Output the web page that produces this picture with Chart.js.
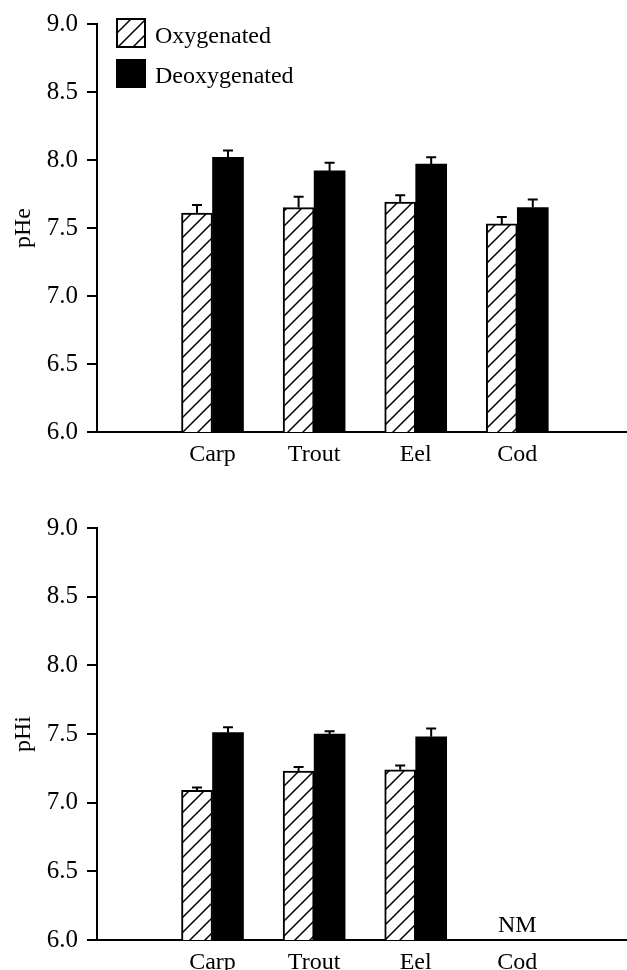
<!DOCTYPE html>
<html><head><meta charset="utf-8">
<script src="https://cdn.jsdelivr.net/npm/chart.js@4.4.0/dist/chart.umd.min.js"></script>
<style>
html,body{margin:0;padding:0;background:#fff;}
.box{position:absolute;left:0;width:627px;height:485px;}
#b1{top:0}
#b2{top:485px}
</style></head><body>
<div class="box" id="b1"><canvas id="c1"></canvas></div>
<div class="box" id="b2"><canvas id="c2"></canvas></div>
<script>
// ---- data ----
const categories = ['Carp', 'Trout', 'Eel', 'Cod'];
const seriesNames = ['Oxygenated', 'Deoxygenated'];
const pHeOxy      = [7.61, 7.65, 7.69, 7.53];
const pHeOxyErr   = [0.06, 0.08, 0.05, 0.05];
const pHeDeoxy    = [8.02, 7.92, 7.97, 7.65];
const pHeDeoxyErr = [0.05, 0.06, 0.05, 0.06];
const pHiOxy      = [7.09, 7.23, 7.24, null];
const pHiOxyErr   = [0.02, 0.03, 0.03, null];
const pHiDeoxy    = [7.51, 7.50, 7.48, null];
const pHiDeoxyErr = [0.04, 0.02, 0.06, null];
const pHiNotes    = ['', '', '', 'NM'];
const yTicks      = [6.0, 6.5, 7.0, 7.5, 8.0, 8.5, 9.0];

Chart.defaults.font.family = '"Liberation Serif", "Times New Roman", serif';
Chart.defaults.font.size = 24;
Chart.defaults.color = '#000';

function makeHatch() {
  const s = 15;
  const c = document.createElement('canvas');
  c.width = s; c.height = s;
  const g = c.getContext('2d');
  g.fillStyle = '#fff'; g.fillRect(0, 0, s, s);
  g.strokeStyle = '#000'; g.lineWidth = 1.5;
  g.beginPath();
  g.moveTo(-2, s + 2); g.lineTo(s + 2, -2);
  g.moveTo(-s / 2 - 2, s / 2 + 2); g.lineTo(s / 2 + 2, -s / 2 - 2);
  g.moveTo(s / 2 - 2, s * 1.5 + 2); g.lineTo(s * 1.5 + 2, s / 2 - 2);
  g.stroke();
  return g.createPattern(c, 'repeat');
}
const hatch = makeHatch();

const toPoints = arr => arr.map((v, i) => ({ x: i + 1, y: v }));

const errorBars = {
  id: 'errorBars',
  afterDatasetsDraw(chart) {
    const ctx = chart.ctx, ys = chart.scales.y;
    ctx.save();
    ctx.strokeStyle = '#000'; ctx.lineWidth = 2;
    chart.data.datasets.forEach((ds, i) => {
      const meta = chart.getDatasetMeta(i);
      meta.data.forEach((bar, j) => {
        const v = ds.data[j].y, e = ds.errors[j];
        if (v == null || e == null) return;
        const yt = ys.getPixelForValue(v + e);
        ctx.beginPath();
        ctx.moveTo(bar.x, bar.y); ctx.lineTo(bar.x, yt);
        ctx.moveTo(bar.x - 5, yt); ctx.lineTo(bar.x + 5, yt);
        ctx.stroke();
      });
    });
    ctx.restore();
  }
};

const notes = {
  id: 'notes',
  afterDatasetsDraw(chart, args, opts) {
    if (!opts.labels) return;
    const ctx = chart.ctx, xs = chart.scales.x, ys = chart.scales.y;
    ctx.save();
    ctx.font = '24px "Liberation Serif", serif';
    ctx.fillStyle = '#000'; ctx.textAlign = 'center'; ctx.textBaseline = 'alphabetic';
    opts.labels.forEach((t, i) => {
      if (!t) return;
      ctx.fillText(t, xs.getPixelForValue(i + 1), ys.getPixelForValue(ys.min) - 8);
    });
    ctx.restore();
  }
};

const boxLegend = {
  id: 'boxLegend',
  afterDraw(chart, args, opts) {
    if (!opts.show) return;
    const ctx = chart.ctx;
    ctx.save();
    ctx.font = '24px "Liberation Serif", serif';
    ctx.textBaseline = 'alphabetic'; ctx.textAlign = 'left';
    const rows = [{ y: 18, h: 30, base: 43 }, { y: 59, h: 29, base: 83 }];
    chart.data.datasets.forEach((ds, i) => {
      const r = rows[i];
      ctx.fillStyle = ds.backgroundColor;
      ctx.fillRect(116, r.y, 30, r.h);
      ctx.strokeStyle = '#000'; ctx.lineWidth = 2;
      ctx.strokeRect(117, r.y + 1, 28, r.h - 2);
      ctx.fillStyle = '#000';
      ctx.fillText(ds.label, 155, r.base);
    });
    ctx.restore();
  }
};

function makeChart(id, oxy, oxyErr, deoxy, deoxyErr, title, opt) {
  return new Chart(document.getElementById(id), {
    type: 'bar',
    data: {
      datasets: [
        { label: seriesNames[0], data: toPoints(oxy), errors: oxyErr,
          backgroundColor: hatch, borderColor: '#000', borderWidth: 2, borderSkipped: false },
        { label: seriesNames[1], data: toPoints(deoxy), errors: deoxyErr,
          backgroundColor: '#000', borderColor: '#000', borderWidth: 0 }
      ]
    },
    options: {
      responsive: true, maintainAspectRatio: false, animation: false,
      barThickness: 31,
      layout: { padding: { top: opt.padTop, left: 0, right: 0, bottom: 0 } },
      plugins: {
        legend: { display: false }, tooltip: { enabled: false },
        boxLegend: { show: opt.legend },
        notes: { labels: opt.notes }
      },
      scales: {
        x: {
          type: 'linear', offset: false, min: -0.137, max: 5.08,
          grid: { display: false },
          border: { display: true, color: '#000', width: 2 },
          afterBuildTicks: s => { s.ticks = categories.map((c, i) => ({ value: i + 1 })); },
          afterFit: s => { s.height = opt.xHeight; },
          ticks: { padding: 0, maxRotation: 0, autoSkip: false,
                   callback: v => categories[v - 1] }
        },
        y: {
          min: 6, max: 9,
          afterBuildTicks: s => { s.ticks = yTicks.map(v => ({ value: v })); },
          afterFit: s => { s.width = 97; },
          grid: { display: true, drawOnChartArea: false, drawTicks: true, tickLength: 10,
                  color: '#000', lineWidth: 2 },
          border: { display: true, color: '#000', width: 2 },
          ticks: { padding: 9, font: { size: 25 }, callback: v => Number(v).toFixed(1) },
          title: { display: true, text: title, padding: { top: 9, bottom: 0 },
                   font: { size: 24 } }
        }
      }
    },
    plugins: [errorBars, notes, boxLegend]
  });
}

makeChart('c1', pHeOxy, pHeOxyErr, pHeDeoxy, pHeDeoxyErr, 'pHe',
  { padTop: 21, xHeight: 53, legend: true, notes: null });
makeChart('c2', pHiOxy, pHiOxyErr, pHiDeoxy, pHiDeoxyErr, 'pHi',
  { padTop: 43, xHeight: 30, legend: false, notes: pHiNotes });
</script>
</body></html>
